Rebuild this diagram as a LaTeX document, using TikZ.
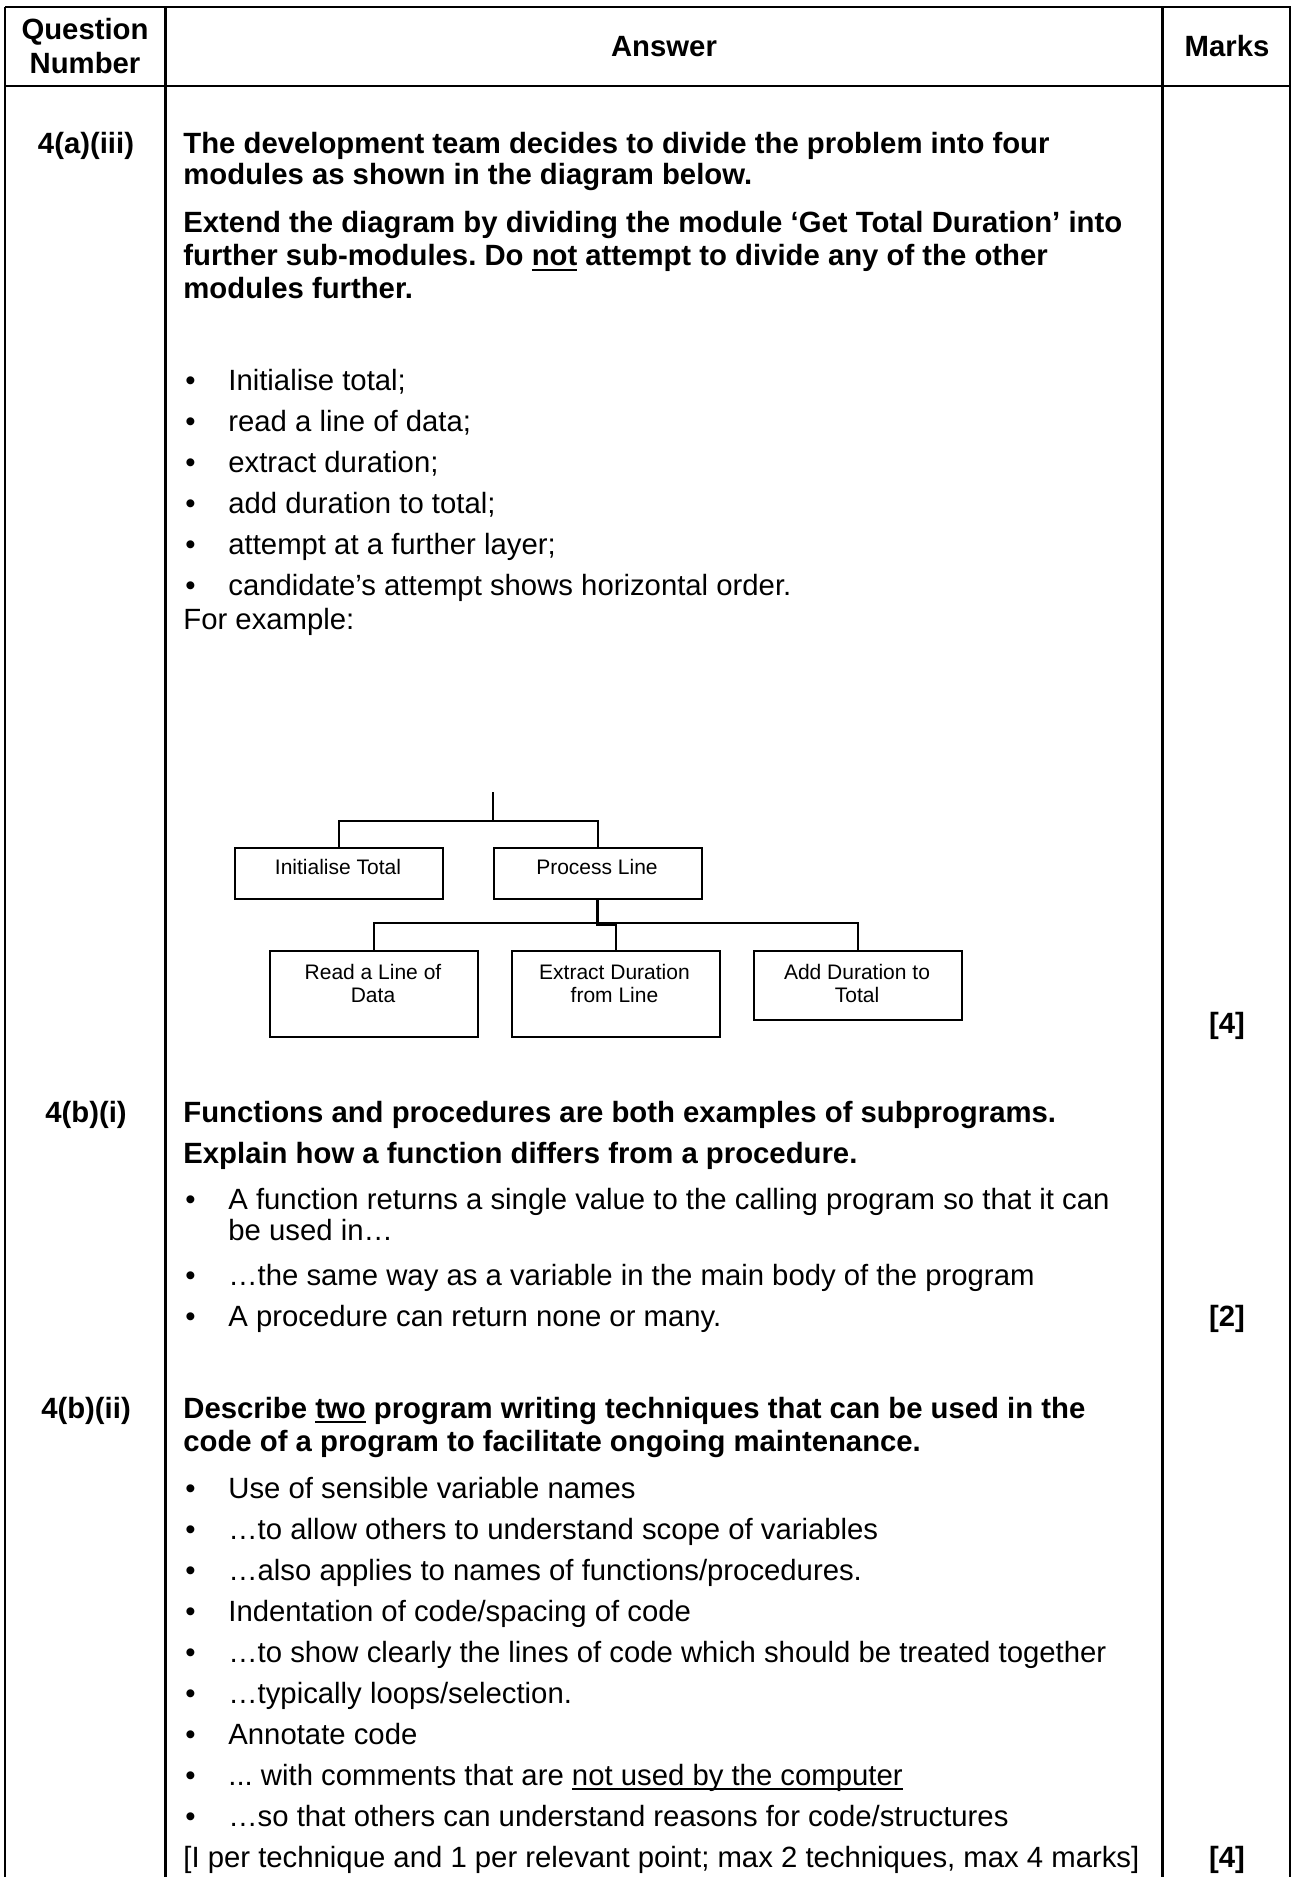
\documentclass[tikz,border=0pt]{standalone}
\usepackage{fontspec}
\setmainfont{Liberation Sans}
\frenchspacing
\newcommand\myul[1]{\leavevmode\setbox0\hbox{#1}\rlap{\vrule height -1.5pt depth 2.4pt width \wd0}\box0\relax}
\begin{document}
\begin{tikzpicture}[
  x=0.5pt, y=-0.5pt,
  grid/.style={line width=1.3pt},
  txt/.style={anchor=base west, inner sep=0pt, font=\fontsize{14.65}{17}\selectfont},
  btxt/.style={anchor=base west, inner sep=0pt, font=\fontsize{14.65}{17}\selectfont\bfseries},
  cbtxt/.style={anchor=base, inner sep=0pt, font=\fontsize{14.65}{17}\selectfont\bfseries},
  bul/.style={anchor=base west, inner sep=0pt, font=\fontsize{14.65}{17}\selectfont},
  module/.style={draw, line width=0.75pt, anchor=north west, inner sep=0pt, minimum width=104pt},
  boxtxt/.style={anchor=base, inner sep=0pt, font=\fontsize{10.5}{12}\selectfont},
  link/.style={line width=0.75pt},
  thick link/.style={line width=1.5pt},
]
\useasboundingbox (0,0) rectangle (1291,1877);
% table grid
\draw[grid] (5,7) -- (1291,7);
\draw[grid] (5,86) -- (1291,86);
\draw[grid] (5,7) -- (5,1877);
\draw[grid] (165.5,7) -- (165.5,1877);
\draw[grid] (1162.5,7) -- (1162.5,1877);
\draw[grid] (1290,7) -- (1290,1877);

% header
\node[cbtxt] (hq1) at (85,40) {Question};
\node[cbtxt] (hq2) at (85,74) {Number};
\node[cbtxt] (ha) at (664,57) {Answer};
\node[cbtxt] (hm) at (1227,57) {Marks};

% row 1
\node[cbtxt] (q1) at (86,154) {4(a)(iii)};
\node[btxt] (r1a) at (183,154) {The development team decides to divide the problem into four};
\node[btxt] (r1b) at (183,185) {modules as shown in the diagram below.};
\node[btxt] (r1c) at (183,233) {Extend the diagram by dividing the module ‘Get Total Duration’ into};
\node[btxt] (r1d) at (183,266) {further sub-modules. Do \myul{not} attempt to divide any of the other};
\node[btxt] (r1e) at (183,299) {modules further.};

\node[bul] (b1) at (185,391) {•};
\node[txt] (l1) at (228,391) {Initialise total;};
\node[bul] (b2) at (185,432) {•};
\node[txt] (l2) at (228,432) {read a line of data;};
\node[bul] (b3) at (185,473) {•};
\node[txt] (l3) at (228,473) {extract duration;};
\node[bul] (b4) at (185,513) {•};
\node[txt] (l4) at (228,513) {add duration to total;};
\node[bul] (b5) at (185,554) {•};
\node[txt] (l5) at (228,554) {attempt at a further layer;};
\node[bul] (b6) at (185,595) {•};
\node[txt] (l6) at (228,595) {candidate’s attempt shows horizontal order.};
\node[txt] (fe) at (183,629) {For example:};

% structure diagram
\node[module, minimum height=25.5pt] (it) at (234,847) {};
\node[module, minimum height=25.5pt] (pl) at (493,847) {};
\node[module, minimum height=43pt] (rd) at (269,950) {};
\node[module, minimum height=43pt] (ex) at (511,950) {};
\node[module, minimum height=34.5pt] (ad) at (753,950) {};
\node[boxtxt] (itt) at (338,874) {Initialise Total};
\node[boxtxt] (plt) at (597,874) {Process Line};
\node[boxtxt] (rdt1) at (373,979) {Read a Line of};
\node[boxtxt] (rdt2) at (373,1002) {Data};
\node[boxtxt] (ext1) at (614.5,979) {Extract Duration};
\node[boxtxt] (ext2) at (614.5,1002) {from Line};
\node[boxtxt] (adt1) at (857,979) {Add Duration to};
\node[boxtxt] (adt2) at (857,1002) {Total};
\coordinate (top) at (493,792);
\coordinate (bar1) at (493,821);
\draw[link] (top) -- (bar1);
\draw[link] (it.north) -- ++(0,-26) -| (pl.north);
\draw[thick link] (pl.south) -- ++(0,25) -- ++(17.5,0);
\draw[link] (rd.north) -- ++(0,-27) -| (ad.north);
\draw[link] (ex.north) -- ++(0,-27);

\node[cbtxt] (m1) at (1227,1033) {[4]};

% row 2
\node[cbtxt] (q2) at (86,1122) {4(b)(i)};
\node[btxt] (r2a) at (183,1122) {Functions and procedures are both examples of subprograms.};
\node[btxt] (r2b) at (183,1163) {Explain how a function differs from a procedure.};
\node[bul] (b7) at (185,1209) {•};
\node[txt] (l7) at (228,1209) {A function returns a single value to the calling program so that it can};
\node[txt] (l7b) at (228,1240) {be used in…};
\node[bul] (b8) at (185,1285) {•};
\node[txt] (l8) at (228,1285) {…the same way as a variable in the main body of the program};
\node[bul] (b9) at (185,1326) {•};
\node[txt] (l9) at (228,1326) {A procedure can return none or many.};
\node[cbtxt] (m2) at (1227,1326) {[2]};

% row 3
\node[cbtxt] (q3) at (86,1418) {4(b)(ii)};
\node[btxt] (r3a) at (183,1418) {Describe \myul{two} program writing techniques that can be used in the};
\node[btxt] (r3b) at (183,1451) {code of a program to facilitate ongoing maintenance.};
\node[bul] (c1) at (185,1498) {•};
\node[txt] (k1) at (228,1498) {Use of sensible variable names};
\node[bul] (c2) at (185,1539) {•};
\node[txt] (k2) at (228,1539) {…to allow others to understand scope of variables};
\node[bul] (c3) at (185,1580) {•};
\node[txt] (k3) at (228,1580) {…also applies to names of functions/procedures.};
\node[bul] (c4) at (185,1621) {•};
\node[txt] (k4) at (228,1621) {Indentation of code/spacing of code};
\node[bul] (c5) at (185,1662) {•};
\node[txt] (k5) at (228,1662) {…to show clearly the lines of code which should be treated together};
\node[bul] (c6) at (185,1703) {•};
\node[txt] (k6) at (228,1703) {…typically loops/selection.};
\node[bul] (c7) at (185,1744) {•};
\node[txt] (k7) at (228,1744) {Annotate code};
\node[bul] (c8) at (185,1785) {•};
\node[txt] (k8) at (228,1785) {... with comments that are \myul{not used by the computer}};
\node[bul] (c9) at (185,1826) {•};
\node[txt] (k9) at (228,1826) {…so that others can understand reasons for code/structures};
\node[txt] (k10) at (183,1867) {[I per technique and 1 per relevant point; max 2 techniques, max 4 marks]};
\node[cbtxt] (m3) at (1227,1867) {[4]};
\end{tikzpicture}
\end{document}
